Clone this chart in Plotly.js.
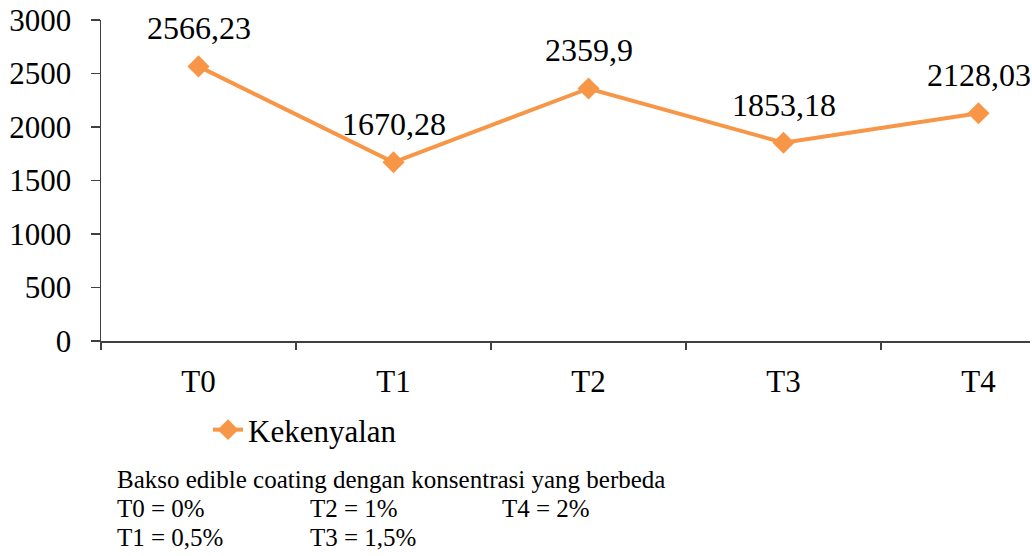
<!DOCTYPE html>
<html>
<head>
<meta charset="utf-8">
<script src="https://cdn.plot.ly/plotly-3.0.1.min.js"></script>
<style>html,body{margin:0;padding:0;background:#fff;}#chart{width:1032px;height:556px;}</style>
</head>
<body>
<div id="chart"></div>
<script>
var categories = ["T0", "T1", "T2", "T3", "T4"];
var kekenyalan = [2566.23, 1670.28, 2359.9, 1853.18, 2128.03];
var seriesName = "Kekenyalan";
var yTicks = [0, 500, 1000, 1500, 2000, 2500, 3000];
var noteLines = [
  ["Bakso edible coating dengan konsentrasi yang berbeda"],
  ["T0 = 0%", "T2 = 1%", "T4 = 2%"],
  ["T1 = 0,5%", "T3 = 1,5%"]
];

var labels = kekenyalan.map(function (v) { return String(v).replace('.', ','); });
var FONT = "'Liberation Serif', 'Times New Roman', serif";
var W = 1032, H = 556, L = 101, R = 2, T = 20, B = 215;
var pw = W - L - R, ph = H - T - B;
function px(x) { return (x - L) / pw; }
function py(y) { return (H - B - y) / ph; }

var trace = {
  x: categories,
  y: kekenyalan,
  type: "scatter",
  mode: "lines+markers",
  name: seriesName,
  line: { color: "#F79646", width: 4 },
  marker: { symbol: "diamond", size: 17, color: "#F79646" },
  cliponaxis: false
};

var annotations = [];
categories.forEach(function (c, i) {
  annotations.push({
    text: labels[i], xref: "x", yref: "y", x: c, y: kekenyalan[i],
    yshift: 38, xanchor: "center", yanchor: "middle", showarrow: false,
    font: { family: FONT, size: 32, color: "#000" }
  });
});
var colX = [115, 308, 500];
var rowY = [479, 508, 537];
noteLines.forEach(function (row, r) {
  row.forEach(function (t, c) {
    annotations.push({
      text: t, xref: "paper", yref: "paper",
      x: px(colX[c]), y: py(rowY[r]),
      xanchor: "left", yanchor: "middle", showarrow: false,
      font: { family: FONT, size: 25, color: "#000" }
    });
  });
});

var layout = {
  width: W, height: H,
  margin: { l: L, r: R, t: T, b: B },
  paper_bgcolor: "#fff", plot_bgcolor: "#fff",
  showlegend: true,
  legend: {
    x: px(208), y: py(430), xanchor: "left", yanchor: "middle",
    font: { family: FONT, size: 31, color: "#000" },
    bgcolor: "rgba(0,0,0,0)"
  },
  xaxis: {
    type: "category",
    range: [-0.5, -0.5 + (1030 - L) / 195],
    showgrid: false, zeroline: false,
    showline: true, linecolor: "#404040", linewidth: 1.5,
    ticks: "outside", tickson: "boundaries", ticklen: 7, tickcolor: "#404040", tickwidth: 1.5,
    tickfont: { family: FONT, size: 31, color: "#000" },
    ticklabelstandoff: 12
  },
  yaxis: {
    range: [0, 3000],
    tickvals: yTicks,
    showgrid: false, zeroline: false,
    showline: true, linecolor: "#404040", linewidth: 1.5,
    ticks: "outside", ticklen: 9, tickcolor: "#404040", tickwidth: 1.5,
    tickfont: { family: FONT, size: 31, color: "#000" },
    ticklabelstandoff: 13
  },
  annotations: annotations
};

Plotly.newPlot("chart", [trace], layout, { displayModeBar: false, staticPlot: true });
</script>
</body>
</html>
